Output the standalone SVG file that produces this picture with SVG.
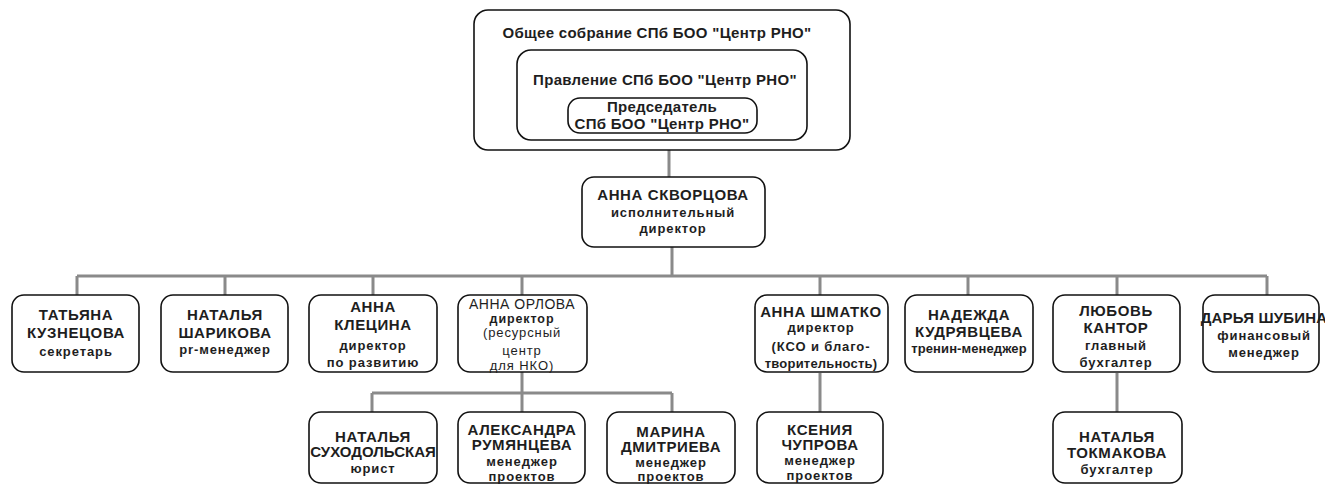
<svg xmlns="http://www.w3.org/2000/svg" width="1325" height="484" viewBox="0 0 1325 484">
<style>
.box{fill:#fff;stroke:#111;stroke-width:1.6}
.conn{stroke:#8a8a8a;stroke-width:3;fill:none}
text{font-family:"Liberation Sans",Arial,sans-serif;font-weight:bold;text-anchor:middle;fill:#1e1e1e}
.n{font-size:15px;letter-spacing:0.6px}
.r{font-size:13px;letter-spacing:0.9px}
.t{font-size:15px;letter-spacing:0.3px}
.w{font-weight:normal}
</style>
<rect width="1325" height="484" fill="#fff"/>
<g id="connectors">
<path class="conn" d="M669 150V177M672 247V276M77 276H1267M77 276V295M225 276V295M373 276V295M522 276V295M820 276V295M968 276V295M1117 276V295M1267 276V295"/>
<path class="conn" d="M522 372V412M372 393H672M372 393V412M672 393V412M820 373V412M1117 373V412"/>
</g>
<g id="general-meeting">
<rect class="box" x="474" y="10" width="376" height="140" rx="14"/>
<text class="t" x="657" y="38">Общее собрание СПб БОО "Центр РНО"</text>
</g>
<g id="board">
<rect class="box" x="517" y="50" width="290" height="90" rx="14"/>
<text class="t" x="665" y="85">Правление СПб БОО "Центр РНО"</text>
</g>
<g id="chairman">
<rect class="box" x="568" y="98" width="189" height="35" rx="12"/>
<text class="t" x="662" y="112">Председатель</text>
<text class="t" x="662" y="129">СПб БОО "Центр РНО"</text>
</g>
<g id="skvortsova">
<rect class="box" x="582" y="177" width="183" height="70" rx="12"/>
<text class="n" x="673" y="200">АННА СКВОРЦОВА</text>
<text class="r" x="673" y="217">исполнительный</text>
<text class="r" x="673" y="233">директор</text>
</g>
<g id="kuznetsova">
<rect class="box" x="12" y="295" width="127" height="77" rx="12"/>
<text class="n" x="76" y="320">ТАТЬЯНА</text>
<text class="n" x="76" y="338">КУЗНЕЦОВА</text>
<text class="r" x="76" y="356">секретарь</text>
</g>
<g id="sharikova">
<rect class="box" x="161" y="295" width="127" height="77" rx="12"/>
<text class="n" x="225" y="320">НАТАЛЬЯ</text>
<text class="n" x="225" y="338">ШАРИКОВА</text>
<text class="r" x="225" y="354">pr-менеджер</text>
</g>
<g id="kletsina">
<rect class="box" x="309" y="295" width="128" height="77" rx="12"/>
<text class="n" x="373" y="312">АННА</text>
<text class="n" x="373" y="330">КЛЕЦИНА</text>
<text class="r" x="373" y="350">директор</text>
<text class="r" x="373" y="367">по развитию</text>
</g>
<g id="orlova">
<rect class="box" x="458" y="295" width="129" height="77" rx="12"/>
<text class="w" x="522" y="309" style="font-size:14px;letter-spacing:0.5px">АННА ОРЛОВА</text>
<text class="r" x="522" y="323" style="font-size:12.5px">директор</text>
<text class="r w" x="522" y="337">(ресурсный</text>
<text class="r w" x="522" y="355">центр</text>
<text class="r w" x="522" y="370">для НКО)</text>
</g>
<g id="shmatko">
<rect class="box" x="755" y="295" width="133" height="77" rx="12"/>
<text class="n" x="821" y="317">АННА ШМАТКО</text>
<text class="r" x="821" y="332">директор</text>
<text class="r" x="821" y="351">(КСО и благо-</text>
<text class="r" x="821" y="368" style="letter-spacing:0.2px">творительность)</text>
</g>
<g id="kudryavtseva">
<rect class="box" x="905" y="295" width="128" height="77" rx="12"/>
<text class="n" x="969" y="320">НАДЕЖДА</text>
<text class="n" x="969" y="337">КУДРЯВЦЕВА</text>
<text class="r" x="969" y="353" style="letter-spacing:0.1px">тренин-менеджер</text>
</g>
<g id="kantor">
<rect class="box" x="1053" y="295" width="127" height="77" rx="12"/>
<text class="n" x="1116" y="316">ЛЮБОВЬ</text>
<text class="n" x="1116" y="333">КАНТОР</text>
<text class="r" x="1116" y="350">главный</text>
<text class="r" x="1116" y="367">бухгалтер</text>
</g>
<g id="shubina">
<rect class="box" x="1203" y="295" width="116" height="77" rx="12"/>
<text class="n" x="1264" y="323" style="letter-spacing:0.2px">ДАРЬЯ ШУБИНА</text>
<text class="r" x="1264" y="340">финансовый</text>
<text class="r" x="1264" y="357">менеджер</text>
</g>
<g id="sukhodolskaya">
<rect class="box" x="309" y="412" width="128" height="71" rx="12"/>
<text class="n" x="373" y="442">НАТАЛЬЯ</text>
<text class="n" x="373" y="457" style="letter-spacing:0px">СУХОДОЛЬСКАЯ</text>
<text class="r" x="373" y="473">юрист</text>
</g>
<g id="rumyantseva">
<rect class="box" x="458" y="412" width="127" height="71" rx="12"/>
<text class="n" x="522" y="435">АЛЕКСАНДРА</text>
<text class="n" x="522" y="450">РУМЯНЦЕВА</text>
<text class="r" x="522" y="466">менеджер</text>
<text class="r" x="522" y="481">проектов</text>
</g>
<g id="dmitrieva">
<rect class="box" x="607" y="412" width="128" height="71" rx="12"/>
<text class="n" x="671" y="437">МАРИНА</text>
<text class="n" x="671" y="452">ДМИТРИЕВА</text>
<text class="r" x="671" y="467">менеджер</text>
<text class="r" x="671" y="481">проектов</text>
</g>
<g id="chuprova">
<rect class="box" x="757" y="412" width="126" height="71" rx="12"/>
<text class="n" x="820" y="435">КСЕНИЯ</text>
<text class="n" x="820" y="450">ЧУПРОВА</text>
<text class="r" x="820" y="465">менеджер</text>
<text class="r" x="820" y="480">проектов</text>
</g>
<g id="tokmakova">
<rect class="box" x="1053" y="412" width="129" height="71" rx="12"/>
<text class="n" x="1117" y="442">НАТАЛЬЯ</text>
<text class="n" x="1117" y="458">ТОКМАКОВА</text>
<text class="r" x="1117" y="474">бухгалтер</text>
</g>
</svg>
